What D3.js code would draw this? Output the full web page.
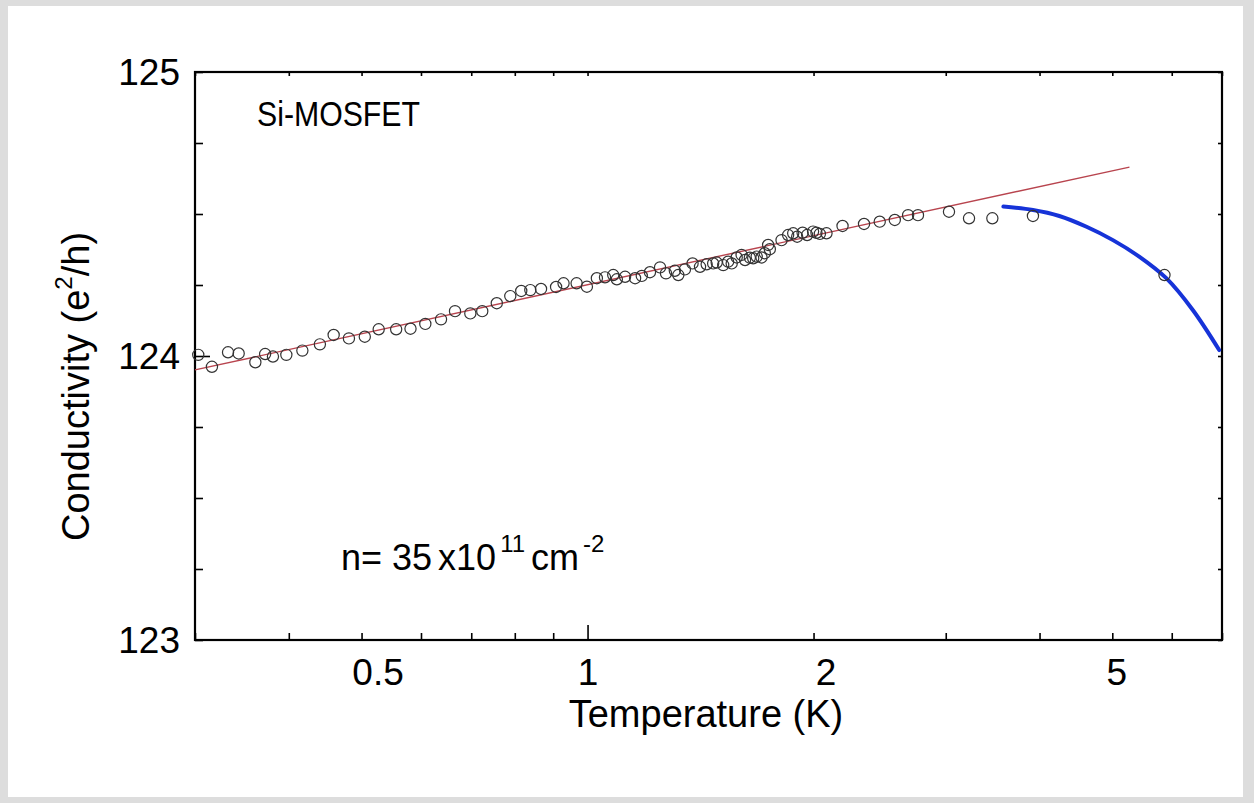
<!DOCTYPE html>
<html>
<head>
<meta charset="utf-8">
<script src="https://cdn.jsdelivr.net/npm/d3@7"></script>
<style>
  body { margin: 0; background: #dddddd; }
  text { font-family: "Liberation Sans", Arial, sans-serif; fill: #000; }
</style>
</head>
<body>
<div id="wrapper"></div>
<script>
const DOT_COLOR = "#333";
const FIT_COLOR = "#b8444e";
const CURVE_COLOR = "#1633d8";

// measured points: temperature (K) and conductivity (e^2/h)
const tempK = [
  0.303, 0.316, 0.332, 0.343, 0.361, 0.372, 0.381, 0.397, 0.417, 0.440,
  0.459, 0.481, 0.505, 0.527, 0.556, 0.581, 0.608, 0.638, 0.666, 0.698,
  0.724, 0.757, 0.789, 0.816, 0.839, 0.867, 0.908, 0.929, 0.967, 0.998,
  1.029, 1.055, 1.082, 1.094, 1.122, 1.157, 1.181, 1.211, 1.249, 1.272,
  1.307, 1.321, 1.348, 1.380, 1.412, 1.441, 1.470, 1.486, 1.516, 1.539,
  1.556, 1.580, 1.604, 1.621, 1.645, 1.662, 1.680, 1.705, 1.722, 1.740,
  1.749, 1.813, 1.850, 1.879, 1.902, 1.934, 1.961, 1.997, 2.018, 2.039,
  2.081, 2.186, 2.335, 2.450, 2.566, 2.673, 2.755, 3.030, 3.222, 3.461,
  3.920, 5.868
];
const conductivity = [
  124.004, 123.962, 124.013, 124.009, 123.978, 124.007, 123.998, 124.004, 124.019, 124.041,
  124.074, 124.062, 124.068, 124.094, 124.094, 124.096, 124.113, 124.129, 124.158, 124.150,
  124.158, 124.186, 124.211, 124.229, 124.232, 124.236, 124.243, 124.256, 124.256, 124.244,
  124.274, 124.277, 124.285, 124.270, 124.279, 124.274, 124.282, 124.295, 124.312, 124.291,
  124.300, 124.285, 124.305, 124.326, 124.314, 124.323, 124.326, 124.329, 124.320, 124.332,
  124.326, 124.347, 124.356, 124.338, 124.346, 124.344, 124.350, 124.347, 124.362, 124.391,
  124.376, 124.408, 124.426, 124.432, 124.420, 124.434, 124.426, 124.438, 124.434, 124.430,
  124.432, 124.458, 124.465, 124.473, 124.479, 124.496, 124.496, 124.508, 124.485, 124.485,
  124.493, 124.285
];

// straight log fit (red), two end points
const fitT = [0.3, 5.27];
const fitSigma = [123.951, 124.665];

// high temperature curve (blue)
const curveT = [3.58, 3.92, 4.25, 4.62, 5.01, 5.43, 5.90, 6.40, 6.94];
const curveSigma = [124.526, 124.514, 124.493, 124.455, 124.408, 124.350, 124.274, 124.162, 124.021];

const xTicks = [0.3, 0.4, 0.5, 0.6, 0.7, 0.8, 0.9, 1, 2, 3, 4, 5, 6, 7];
const xLabels = [0.5, 1, 2, 5];
const yTicks = [123, 123.25, 123.5, 123.75, 124, 124.25, 124.5, 124.75, 125];
const yLabels = [123, 124, 125];

const dimensions = {
  width: 1254,
  height: 803,
  margin: { top: 72, right: 32, bottom: 163, left: 195 }
};
dimensions.boundedWidth = dimensions.width - dimensions.margin.left - dimensions.margin.right;
dimensions.boundedHeight = dimensions.height - dimensions.margin.top - dimensions.margin.bottom;

const svg = d3.select("#wrapper")
  .append("svg")
  .attr("width", dimensions.width)
  .attr("height", dimensions.height);

svg.append("rect")
  .attr("x", 8).attr("y", 6)
  .attr("width", 1235).attr("height", 791)
  .attr("fill", "#fff");

const bounds = svg.append("g")
  .attr("transform", `translate(${dimensions.margin.left},${dimensions.margin.top})`);

const xScale = d3.scaleLog()
  .domain([0.3, 7])
  .range([0, dimensions.boundedWidth]);

const yScale = d3.scaleLinear()
  .domain([123, 125])
  .range([dimensions.boundedHeight, 0]);

// bottom axis, ticks pointing in
const xAxis = bounds.append("g")
  .attr("transform", `translate(0,${dimensions.boundedHeight})`)
  .call(d3.axisBottom(xScale)
    .tickValues(xTicks)
    .tickSize(-7)
    .tickSizeOuter(0)
    .tickPadding(19)
    .tickFormat(d => xLabels.includes(d) ? d3.format("")(d) : ""));

// the printed labels sit a little to the right of some ticks
const labelNudge = { 0.5: 16, 1: 0, 2: 12, 5: 4 };
xAxis.selectAll(".tick text")
  .attr("dx", d => labelNudge[d] || 0)
  .style("font-size", "37px");
xAxis.selectAll(".tick line")
  .attr("y2", d => d === 1 ? -15 : -7)
  .attr("stroke-width", 1.6);

// top axis, short ticks
const topAxis = bounds.append("g")
  .call(d3.axisTop(xScale)
    .tickValues(xTicks)
    .tickSize(-4)
    .tickSizeOuter(0)
    .tickFormat(""));
topAxis.selectAll(".tick line").attr("stroke-width", 1.6);

const yAxis = bounds.append("g")
  .call(d3.axisLeft(yScale)
    .tickValues(yTicks)
    .tickSize(-8)
    .tickSizeOuter(0)
    .tickPadding(15)
    .tickFormat(d => yLabels.includes(d) ? d3.format("")(d) : ""));
yAxis.selectAll(".tick text")
  .style("font-size", "37px")
  .attr("dy", "0.33em");
yAxis.selectAll(".tick line")
  .attr("x2", d => d === 124 ? 15 : 8)
  .attr("stroke-width", 1.6);

const rightAxis = bounds.append("g")
  .attr("transform", `translate(${dimensions.boundedWidth},0)`)
  .call(d3.axisRight(yScale)
    .tickValues(yTicks)
    .tickSize(-4)
    .tickSizeOuter(0)
    .tickFormat(""));
rightAxis.selectAll(".tick line").attr("stroke-width", 1.6);

bounds.selectAll(".domain").remove();
bounds.selectAll(".tick text").style("font-family", "'Liberation Sans', Arial, sans-serif");

// frame
bounds.append("rect")
  .attr("width", dimensions.boundedWidth)
  .attr("height", dimensions.boundedHeight)
  .attr("fill", "none")
  .attr("stroke", "#000")
  .attr("stroke-width", 2.2);

bounds.append("clipPath").attr("id", "plot-clip")
  .append("rect")
  .attr("width", dimensions.boundedWidth)
  .attr("height", dimensions.boundedHeight);

const line = d3.line()
  .x(d => xScale(d[0]))
  .y(d => yScale(d[1]));

bounds.append("path")
  .datum(d3.zip(fitT, fitSigma))
  .attr("d", line)
  .attr("fill", "none")
  .attr("stroke", FIT_COLOR)
  .attr("stroke-width", 1.4);

bounds.append("path")
  .datum(d3.zip(curveT, curveSigma))
  .attr("d", line.curve(d3.curveCatmullRom))
  .attr("clip-path", "url(#plot-clip)")
  .attr("fill", "none")
  .attr("stroke", CURVE_COLOR)
  .attr("stroke-width", 4)
  .attr("stroke-linecap", "round");

bounds.append("g")
  .selectAll("circle")
  .data(d3.zip(tempK, conductivity))
  .enter().append("circle")
  .attr("cx", d => xScale(d[0]))
  .attr("cy", d => yScale(d[1]))
  .attr("r", 5.6)
  .attr("fill", "none")
  .attr("stroke", DOT_COLOR)
  .attr("stroke-width", 1.2);

// annotations
svg.append("text")
  .attr("x", 257)
  .attr("y", 126)
  .style("font-size", "35px")
  .attr("textLength", 163)
  .attr("lengthAdjust", "spacingAndGlyphs")
  .text("Si-MOSFET");

const nLabel = svg.append("text")
  .attr("x", 341)
  .attr("y", 570)
  .style("font-size", "36px");
nLabel.append("tspan").text("n= 35");
nLabel.append("tspan").attr("dx", 6).text("x10");
nLabel.append("tspan").attr("dx", 4).attr("dy", -18).style("font-size", "24px").text("11");
nLabel.append("tspan").attr("dx", 6).attr("dy", 18).text("cm");
nLabel.append("tspan").attr("dx", 4).attr("dy", -18).style("font-size", "24px").text("-2");

svg.append("text")
  .attr("x", 706)
  .attr("y", 727)
  .attr("text-anchor", "middle")
  .style("font-size", "38px")
  .text("Temperature (K)");

const yLabel = svg.append("text")
  .attr("transform", "translate(89,541) rotate(-90)")
  .style("font-size", "38px");
yLabel.append("tspan").text("Conductivity (e");
yLabel.append("tspan").attr("dy", -17).style("font-size", "24px").text("2");
yLabel.append("tspan").attr("dy", 17).text("/h)");
</script>
</body>
</html>
